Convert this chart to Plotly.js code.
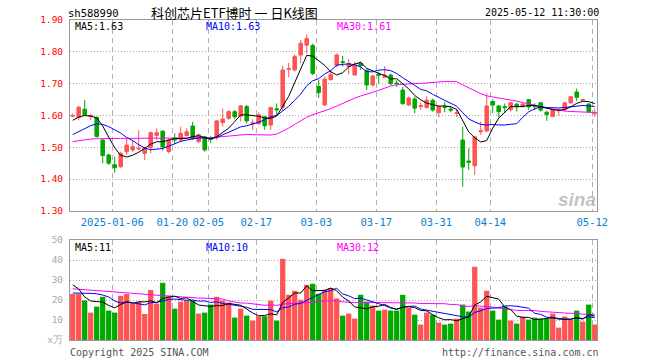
<!DOCTYPE html>
<html><head><meta charset="utf-8">
<script src="https://cdn.plot.ly/plotly-3.0.1.min.js"></script>
<style>html,body{margin:0;padding:0;background:#fff}#chart{width:660px;height:360px}</style>
</head><body><div id="chart"></div>
<script>
// ---- data ----
const dates = [
 '2024-12-25','2024-12-26','2024-12-27','2024-12-30','2024-12-31',
 '2025-01-02','2025-01-03','2025-01-06','2025-01-07','2025-01-08','2025-01-09','2025-01-10',
 '2025-01-13','2025-01-14','2025-01-15','2025-01-16','2025-01-17','2025-01-20','2025-01-21',
 '2025-01-22','2025-01-23','2025-01-24','2025-01-27',
 '2025-02-05','2025-02-06','2025-02-07','2025-02-10','2025-02-11','2025-02-12','2025-02-13',
 '2025-02-14','2025-02-17','2025-02-18','2025-02-19','2025-02-20','2025-02-21','2025-02-24',
 '2025-02-25','2025-02-26','2025-02-27','2025-02-28',
 '2025-03-03','2025-03-04','2025-03-05','2025-03-06','2025-03-07','2025-03-10','2025-03-11',
 '2025-03-12','2025-03-13','2025-03-14','2025-03-17','2025-03-18','2025-03-19','2025-03-20',
 '2025-03-21','2025-03-24','2025-03-25','2025-03-26','2025-03-27','2025-03-28','2025-03-31',
 '2025-04-01','2025-04-02','2025-04-03','2025-04-07','2025-04-08','2025-04-09','2025-04-10',
 '2025-04-11','2025-04-14','2025-04-15','2025-04-16','2025-04-17','2025-04-18','2025-04-21',
 '2025-04-22','2025-04-23','2025-04-24','2025-04-25','2025-04-28','2025-04-29','2025-04-30',
 '2025-05-06','2025-05-07','2025-05-08','2025-05-09','2025-05-12'];

const openP = [1.598,1.594,1.620,1.597,1.594,1.523,1.476,1.445,1.439,1.486,1.492,1.495,1.481,1.500,1.537,1.551,1.487,1.528,1.523,1.537,
 1.567,1.518,1.533,1.530,1.533,1.578,1.591,1.612,1.598,1.628,1.574,1.575,1.596,1.570,1.621,1.626,1.745,1.743,1.790,1.821,
 1.820,1.691,1.633,1.713,1.758,1.769,1.754,1.727,1.764,1.741,1.696,1.730,1.720,1.727,1.702,1.680,1.633,1.652,1.628,1.625,
 1.648,1.609,1.628,1.620,1.607,1.523,1.457,1.442,1.549,1.551,1.644,1.630,1.628,1.619,1.636,1.628,1.650,1.630,1.640,1.610,
 1.597,1.615,1.619,1.640,1.674,1.648,1.636,1.606];
const highP = [1.606,1.630,1.649,1.605,1.597,1.525,1.480,1.471,1.486,1.528,1.523,1.554,1.502,1.550,1.560,1.553,1.528,1.544,1.565,1.560,
 1.580,1.544,1.535,1.535,1.586,1.622,1.617,1.617,1.633,1.633,1.588,1.610,1.598,1.627,1.638,1.756,1.765,1.792,1.837,1.855,
 1.826,1.712,1.722,1.740,1.795,1.787,1.777,1.769,1.769,1.748,1.727,1.738,1.755,1.732,1.711,1.690,1.660,1.659,1.640,1.660,
 1.653,1.633,1.642,1.630,1.621,1.565,1.497,1.535,1.581,1.670,1.651,1.633,1.638,1.643,1.638,1.640,1.651,1.638,1.642,1.615,
 1.620,1.622,1.643,1.660,1.685,1.652,1.638,1.622];
const lowP = [1.594,1.585,1.600,1.585,1.530,1.450,1.445,1.420,1.436,1.476,1.486,1.490,1.460,1.481,1.523,1.490,1.481,1.512,1.517,1.534,
 1.523,1.513,1.486,1.513,1.523,1.565,1.586,1.588,1.581,1.575,1.555,1.570,1.555,1.555,1.600,1.617,1.720,1.738,1.764,1.795,
 1.727,1.655,1.630,1.709,1.751,1.753,1.730,1.727,1.743,1.680,1.690,1.700,1.720,1.695,1.690,1.634,1.630,1.607,1.618,1.622,
 1.612,1.594,1.610,1.610,1.595,1.376,1.429,1.413,1.539,1.549,1.607,1.594,1.607,1.612,1.612,1.625,1.617,1.617,1.612,1.583,
 1.595,1.600,1.612,1.636,1.645,1.645,1.607,1.597];
const closeP = [1.600,1.626,1.602,1.600,1.534,1.474,1.450,1.436,1.481,1.507,1.502,1.497,1.497,1.546,1.546,1.502,1.523,1.523,1.544,1.549,
 1.528,1.539,1.492,1.525,1.583,1.589,1.612,1.596,1.630,1.583,1.577,1.602,1.568,1.625,1.618,1.743,1.747,1.785,1.827,1.842,
 1.732,1.672,1.714,1.729,1.790,1.767,1.764,1.758,1.756,1.696,1.724,1.727,1.727,1.700,1.700,1.637,1.655,1.623,1.631,1.648,
 1.617,1.628,1.626,1.617,1.608,1.438,1.453,1.533,1.552,1.630,1.633,1.612,1.625,1.640,1.628,1.636,1.627,1.628,1.617,1.603,
 1.617,1.617,1.640,1.659,1.657,1.650,1.612,1.609];

// volume, unit: 万
const volume = [23,23,19.8,13.7,16.7,21.6,14.7,13.7,22.1,23,18,19,13,25,18.2,28.6,22.1,15.7,19.2,19.7,
 19.7,13.2,13.7,17.7,21.6,19.7,18.7,11.2,15.7,12.2,9.7,11.9,11.9,19.7,9.7,40.6,22.6,24.6,20.1,27.6,
 28.1,23.1,25.1,26,20.8,12.2,13.2,10.7,22.6,19.2,17.2,14.7,15.2,14.7,14.7,22.6,16.2,12.7,7.7,13.7,
 12.7,8.7,7.7,8.2,10.7,17.7,14.2,36.6,16.2,24.6,14.7,10.2,16.7,9.7,8.2,11.7,10.2,11.2,10.7,10.7,
 13.2,6.2,11.7,10.2,14.7,9.2,17.7,7.7];

// moving-average values shown before a full window is available
const priceMa5Head = [1.585,1.595,1.600,1.598];
const priceMa10Head = [1.540,1.550,1.560,1.568,1.574,1.572,1.565,1.555,1.545];
const priceMa30Head = [1.518,1.521,1.524,1.526,1.527,1.528,1.528,1.528,1.528,1.528,1.528,1.528,1.528,1.528,1.528,
 1.528,1.528,1.528,1.528,1.529,1.529,1.530,1.530,1.530,1.532,1.534,1.536,1.537,1.538];
const volMa5Head = [27.6,25.5,21.5,19.5];
const volMa10Head = [23.5,23.5,23.4,23.3,23.1,22.5,21.5,19.5,18.5];
const volMa30Head = [25.6,25.4,25.2,25.0,24.8,24.5,24.2,24.0,23.8,23.6,23.4,23.1,22.9,22.6,22.4,22.1,21.8,21.6,21.3,21.2,
 21.0,21.0,20.9,20.8,20.6,20.5,19.5,19.0,18.5];

const tickDates = ['2025-01-06','2025-01-20','2025-02-05','2025-02-17','2025-03-03','2025-03-17','2025-03-31','2025-04-14','2025-05-12'];
const tickLabels = ['2025-01-06','01-20','02-05','02-17','03-03','03-17','03-31','04-14','05-12'];
const priceTicks = [1.30,1.40,1.50,1.60,1.70,1.80,1.90];
const volTicks = [0,10,20,30,40,50];
const volTickLabels = ['x万','10','20','30','40','50'];

// ---- helpers ----
function movingAverage(values, n, head) {
  return values.map((v, i) => {
    if (i < n - 1) return head[i];
    let s = 0; for (let k = i - n + 1; k <= i; k++) s += values[k];
    return s / n;
  });
}
const RED = '#ff5454', GREEN = '#00a800';
const xs = dates.map((d, i) => i);
const tickPos = tickDates.map(d => dates.indexOf(d) - 0.4);
const volColors = closeP.map((c, i) => c >= openP[i] ? RED : GREEN);

const L = 70, R = 597, T = 20, B = 340;
const px = x => (x - L) / (R - L);
const py = y => (B - y) / (B - T);
const mono = 'DejaVu Sans Mono, monospace';

const traces = [
  {type: 'candlestick', x: xs, open: openP, high: highP, low: lowP, close: closeP,
   increasing: {line: {color: RED, width: 1}, fillcolor: RED},
   decreasing: {line: {color: GREEN, width: 1}, fillcolor: GREEN},
   whiskerwidth: 0, hoverinfo: 'skip', xaxis: 'x', yaxis: 'y', showlegend: false},
  {type: 'scatter', mode: 'lines', x: xs, y: movingAverage(closeP, 30, priceMa30Head), line: {color: '#ff00ff', width: 1}, xaxis: 'x', yaxis: 'y', hoverinfo: 'skip'},
  {type: 'scatter', mode: 'lines', x: xs, y: movingAverage(closeP, 10, priceMa10Head), line: {color: '#0000ff', width: 1}, xaxis: 'x', yaxis: 'y', hoverinfo: 'skip'},
  {type: 'scatter', mode: 'lines', x: xs, y: movingAverage(closeP, 5, priceMa5Head), line: {color: '#000000', width: 1}, xaxis: 'x', yaxis: 'y', hoverinfo: 'skip'},
  {type: 'bar', x: xs, y: volume, marker: {color: volColors, line: {width: 0}}, xaxis: 'x2', yaxis: 'y2', hoverinfo: 'skip'},
  {type: 'scatter', mode: 'lines', x: xs, y: movingAverage(volume, 30, volMa30Head), line: {color: '#ff00ff', width: 1}, xaxis: 'x2', yaxis: 'y2', hoverinfo: 'skip'},
  {type: 'scatter', mode: 'lines', x: xs, y: movingAverage(volume, 10, volMa10Head), line: {color: '#0000ff', width: 1}, xaxis: 'x2', yaxis: 'y2', hoverinfo: 'skip'},
  {type: 'scatter', mode: 'lines', x: xs, y: movingAverage(volume, 5, volMa5Head), line: {color: '#000000', width: 1}, xaxis: 'x2', yaxis: 'y2', hoverinfo: 'skip'}
];

const xRange = [-0.45, 87.38];
const frame = {showline: true, mirror: true, linecolor: '#9a9a9a', linewidth: 1, zeroline: false};

function ann(text, x, y, color, size, anchor, family, extra) {
  return Object.assign({text: text, x: px(x), y: py(y), xref: 'paper', yref: 'paper', showarrow: false,
    xanchor: anchor, yanchor: 'middle', font: {family: family || mono, size: size, color: color}, borderpad: 0}, extra || {});
}

const layout = {
  width: 660, height: 360, margin: {l: L, r: 660 - R, t: T, b: 360 - B},
  paper_bgcolor: '#fff', plot_bgcolor: '#fff', showlegend: false,
  bargap: 0.12, boxgap: 0.16,
  xaxis: Object.assign({}, frame, {anchor: 'y', range: xRange, type: 'linear', rangeslider: {visible: false},
    tickvals: tickPos, ticktext: tickLabels, ticks: 'outside', ticklen: 1, tickcolor: 'rgba(0,0,0,0)',
    tickfont: {family: mono, size: 10.5, color: '#0880d0'},
    showgrid: true, gridcolor: '#b0b0b0', griddash: '5px,4px', gridwidth: 1}),
  xaxis2: Object.assign({}, frame, {anchor: 'y2', matches: 'x', range: xRange, type: 'linear',
    tickvals: tickPos, showticklabels: false, ticks: '',
    showgrid: true, gridcolor: '#b0b0b0', griddash: '5px,4px', gridwidth: 1}),
  yaxis: Object.assign({}, frame, {domain: [py(211), 1], range: [1.30, 1.90], tickvals: priceTicks,
    tickformat: '.2f', ticks: 'outside', ticklen: 4, tickcolor: 'rgba(0,0,0,0)',
    tickfont: {family: mono, size: 9.5, color: '#ff0000'},
    showgrid: true, gridcolor: '#a8a8a8', griddash: '1px,2px', gridwidth: 1}),
  yaxis2: Object.assign({}, frame, {domain: [0, py(240)], range: [0, 50], tickvals: volTicks, ticktext: volTickLabels,
    ticks: 'outside', ticklen: 4, tickcolor: 'rgba(0,0,0,0)',
    tickfont: {family: mono, size: 9.5, color: '#a8a8a8'},
    showgrid: true, gridcolor: '#a8a8a8', griddash: '1px,2px', gridwidth: 1}),
  annotations: [
    ann('sh588990', 67, 12.5, '#000', 10.5, 'left'),
    ann('科创芯片ETF博时 一 日K线图', 150, 12.5, '#000', 13, 'left', 'Noto Sans CJK SC'),
    ann('2025-05-12 11:30:00', 600, 12.5, '#000', 10, 'right'),
    ann('MA5:1.63', 74, 27, '#000', 10, 'left'),
    ann('MA10:1.63', 205, 27, '#0000ff', 10, 'left'),
    ann('MA30:1.61', 336, 27, '#ff00ff', 10, 'left'),
    ann('MA5:11', 74, 247, '#000', 10, 'left'),
    ann('MA10:10', 205, 247, '#0000ff', 10, 'left'),
    ann('MA30:12', 336, 247, '#ff00ff', 10, 'left'),
    ann('Copyright 2025 SINA.COM', 69, 352.5, '#555', 10, 'left'),
    ann('http://finance.sina.com.cn', 600, 352.5, '#555', 10, 'right'),
    ann('<b><i>sina</i></b>', 597, 199, 'rgba(175,175,175,0.75)', 19, 'right', 'Liberation Sans')
  ]
};

Plotly.newPlot('chart', traces, layout, {staticPlot: true, displayModeBar: false});
</script>
</body></html>
